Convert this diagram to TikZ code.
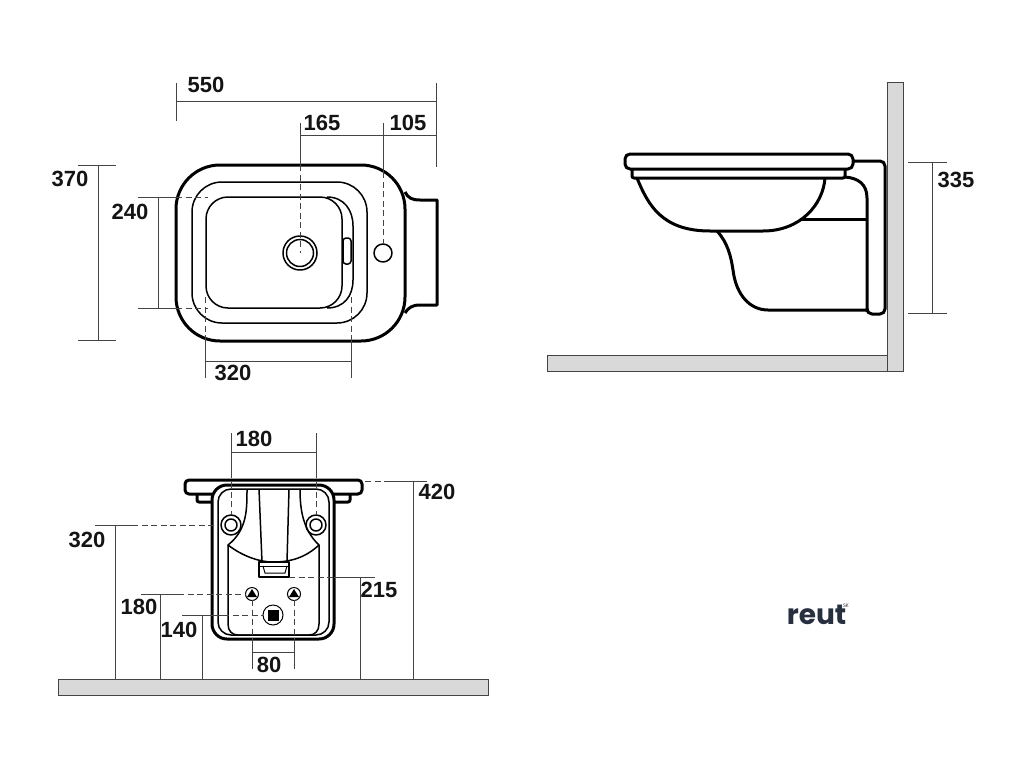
\documentclass[tikz,border=0pt]{standalone}
\usepackage{fontspec}
\setmainfont{Liberation Sans}
\newfontfamily\logofont{Poppins}
\definecolor{dimgray}{HTML}{444444}
\definecolor{wallgray}{HTML}{D9D9D9}
\definecolor{logoblue}{HTML}{27303F}
\tikzset{
	heavy/.style={line width=3pt, line join=round},
	light/.style={line width=1.5pt, line join=round},
	dimline/.style={line width=1pt, dimgray},
	hidden/.style={line width=1pt, dimgray, dash pattern=on 6pt off 3.5pt},
	dimtext/.style={font=\fontsize{22}{22}\selectfont\bfseries, text=black!92, inner sep=0pt},
	wall/.style={fill=wallgray, draw=dimgray, line width=1pt}
}
\begin{document}
\begin{tikzpicture}[x=1pt, y=-1pt]
		\useasboundingbox (0,0) rectangle (1024,768);
		%top view
		\draw[heavy, rounded corners=44pt] (176,165) rectangle (405,341);
		\draw[heavy] (405,192) .. controls (408,198) and (412,200) .. (420,200) -- (437,200) -- (437,305) -- (420,305) .. controls (412,305) and (408,308) .. (405,313);
		\draw[light, rounded corners=30pt] (192,182) rectangle (367,323);
		\draw[light, rounded corners=22pt] (206,197) rectangle (342,308);
		\draw[light] (327,197) .. controls (344,197) and (353,210) .. (353,226) -- (353,280) .. controls (353,296) and (344,308) .. (327,308);
		\draw[light] (300,253) circle (17);
		\draw[light] (300,253) circle (13.5);
		\draw[light, rounded corners=3pt] (343,238) rectangle (351,264);
		\draw[light] (383,253) circle (9);
		
		\draw[dimline] (176,83) -- (176,121);
		\draw[dimline] (436,83) -- (436,167);
		\draw[dimline] (176,101) -- (436,101);
		\draw[dimline] (300,135) -- (436,135);
		\draw[dimline] (300,123) -- (300,165);
		\draw[hidden] (300,165) -- (300,253);
		\draw[dimline] (383,123) -- (383,172);
		\draw[hidden] (383,172) -- (383,244);
		\draw[dimline] (98,165) -- (98,340);
		\draw[dimline] (78,165) -- (116,165);
		\draw[dimline] (78,340) -- (116,340);
		\draw[dimline] (158,197) -- (158,308);
		\foreach \y in {197, 308}{
			\draw[dimline] (138,\y) -- (176,\y);
			\draw[hidden] (176,\y) -- (208,\y);
		}
		\draw[dimline] (205,361) -- (351,361);
		\foreach \x in {205, 351}{
			\draw[hidden] (\x,297) -- (\x,341);
			\draw[dimline] (\x,341) -- (\x,378);
		}
		\node[dimtext] (top550) at (206,85){550};
		\node[dimtext] (top165) at (322,123){165};
		\node[dimtext] (top105) at (408,123){105};
		\node[dimtext] (top370) at (70,179){370};
		\node[dimtext] (top240) at (130,212){240};
		\node[dimtext] (top320) at (233,373){320};
		
		%side view
		\draw[wall] (547,355) rectangle (887,371);
		\draw[wall] (887,82) rectangle (903,371);
		\draw[heavy, rounded corners=5pt] (625,154) rectangle (853,169);
		\draw[heavy, rounded corners=2pt] (632,169) -- (632,178) -- (845,178) -- (845,169);
		\draw[heavy] (637,178) .. controls (648,205) and (662,231) .. (710,231) -- (763,231) .. controls (800,231) and (823,205) .. (825,178);
		\draw[heavy, rounded corners=5pt] (853,161) -- (885,161) -- (885,314) -- (867,314) -- (867,310);
		\draw[heavy] (845,177) .. controls (858,178) and (867,184) .. (867,198) -- (867,312);
		\draw[heavy] (802,219) -- (867,219);
		\draw[heavy] (717,231) .. controls (728,243) and (731,257) .. (733,270) .. controls (736,295) and (750,310) .. (768,310) -- (867,310);
		
		\draw[dimline] (932,162) -- (932,313);
		\draw[dimline] (908,162) -- (947,162);
		\draw[dimline] (908,313) -- (947,313);
		\node[dimtext] (side335) at (956,180){335};
		
		%front view
		\draw[wall] (58,679) rectangle (488,695);
		\draw[heavy, rounded corners=4pt] (212,494) -- (185,494) -- (185,480) -- (362,480) -- (362,494) -- (334,494);
		\draw[heavy, rounded corners=2pt] (212,502) -- (197,502) -- (197,494);
		\draw[heavy, rounded corners=2pt] (334,502) -- (350,502) -- (350,494);
		\draw[heavy, rounded corners=15pt, fill=white] (212,485) rectangle (334,639);
		\draw[light, rounded corners=13pt] (218,489) rectangle (329,635);
		
		\foreach \x in {231, 316}{
			\draw[light] (\x,525) circle (10);
			\draw[light] (\x,525) circle (6);
		}
		\draw[light] (247,489) .. controls (247,510) and (247,530) .. (228,545) .. controls (245,558) and (262,562) .. (273,562) .. controls (290,562) and (305,558) .. (319,545) .. controls (303,530) and (300,510) .. (300,489);
		\draw[light] (228,545) -- (228,624) .. controls (228,631) and (232,635) .. (238,635) -- (309,635) .. controls (315,635) and (319,631) .. (319,624) -- (319,545);
		\draw[light] (259,489) -- (262,562);
		\draw[light] (289,489) -- (287,562);
		\draw[light] (259,562) rectangle (289,577);
		\draw[line width=1pt] (263,566) -- (265,573) -- (285,573) -- (287,566);
		\draw[line width=1pt] (259,566) -- (289,566);
		\foreach \x in {252, 294}{
			\draw[line width=1pt] (\x,594) circle (6.5);
			\fill (\x,589) -- (\x+5,597) -- (\x-5,597) -- cycle;
		}
		\draw[line width=1pt] (273,615) circle (10);
		\fill (267.5,609.5) rectangle (278.5,620.5);
		
		\draw[dimline] (231,452) -- (316,452);
		\foreach \x in {231, 316}{
			\draw[dimline] (\x,433) -- (\x,478);
			\draw[hidden] (\x,482) -- (\x,515);
		}
		\draw[dimline] (413,481) -- (413,679);
		\draw[hidden] (365,481) -- (390,481);
		\draw[dimline] (390,481) -- (427,481);
		\draw[dimline] (115,525) -- (115,679);
		\draw[dimline] (95,525) -- (132,525);
		\draw[hidden] (132,525) -- (214,525);
		\draw[dimline] (360,577) -- (360,679);
		\draw[hidden] (289,577) -- (334,577);
		\draw[dimline] (334,577) -- (375,577);
		\draw[dimline] (160,594) -- (160,679);
		\draw[dimline] (141,594) -- (178,594);
		\draw[hidden] (178,594) -- (245,594);
		\draw[dimline] (202,615) -- (202,679);
		\draw[dimline] (182,615) -- (223,615);
		\draw[hidden] (223,615) -- (263,615);
		\draw[dimline] (252,652) -- (294,652);
		\foreach \x in {252, 294}{
			\draw[hidden] (\x,600) -- (\x,640);
			\draw[dimline] (\x,640) -- (\x,669);
		}
		\node[dimtext] (front180) at (254,439){180};
		\node[dimtext] (front420) at (437,492){420};
		\node[dimtext] (front320) at (87,540){320};
		\node[dimtext] (front215) at (379,590){215};
		\node[dimtext] (front180b) at (139,607){180};
		\node[dimtext] (front140) at (179,630){140};
		\node[dimtext] (front80) at (269,665){80};
		
		%logo
		\node[inner sep=0pt, text=logoblue, font=\logofont\bfseries\fontsize{28}{28}\selectfont] (logo) at (816.5,615){reut};
		\node[inner sep=0pt, text=logoblue, font=\logofont\fontsize{5}{5}\selectfont] (logosk) at (846,606){SK};
\end{tikzpicture}
\end{document}
